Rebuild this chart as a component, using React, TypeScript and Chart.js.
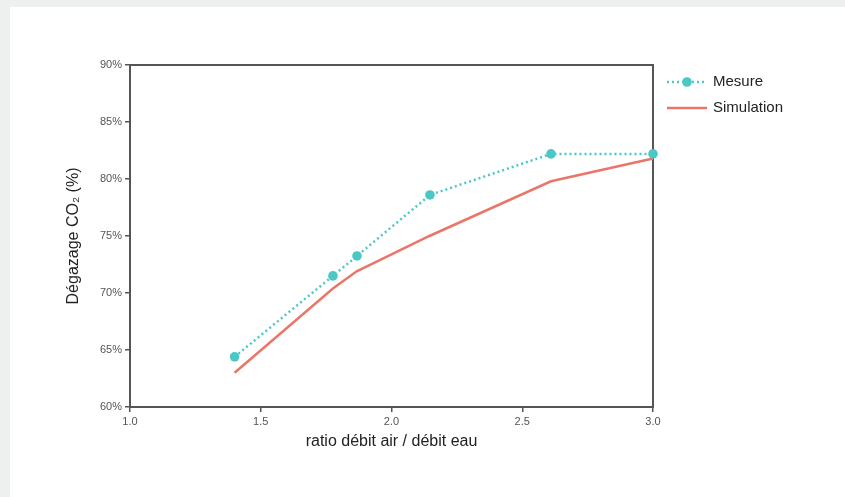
import React, { useEffect, useRef } from "react";
import { Chart, registerables } from "chart.js";

Chart.register(...registerables);

const ratioMesure = [1.4, 1.776, 1.868, 2.147, 2.61, 3.0];
const degazageMesure = [64.4, 71.5, 73.25, 78.6, 82.2, 82.2];
const ratioSimulation = [1.4, 1.776, 1.867, 2.145, 2.61, 3.0];
const degazageSimulation = [63.0, 70.4, 71.9, 75.0, 79.8, 81.8];
const seriesNames = ["Mesure", "Simulation"];
const yTitle = "Dégazage CO₂ (%)";
const xTitle = "ratio débit air / débit eau";

const TEAL = "#4bc8c5";
const SALMON = "#ea7669";
const FRAME = "#555555";
const FONT = "'Liberation Sans', Arial, Helvetica, sans-serif";

const framePlugin = {
  id: "frame",
  beforeDatasetsDraw(chart: any) {
    const { ctx, chartArea } = chart;
    ctx.save();
    ctx.strokeStyle = FRAME;
    ctx.lineWidth = 2;
    ctx.strokeRect(chartArea.left, chartArea.top, chartArea.right - chartArea.left, chartArea.bottom - chartArea.top);
    ctx.restore();
  },
};

const legendPlugin = {
  id: "customLegend",
  afterDraw(chart: any) {
    const { ctx, chartArea } = chart;
    const x0 = chartArea.right + 14;
    const lineLen = 40;
    const rows = [chartArea.top + 17, chartArea.top + 43];
    ctx.save();
    chart.data.datasets.forEach((ds: any, i: number) => {
      const y = rows[i];
      ctx.strokeStyle = ds.borderColor;
      ctx.lineWidth = ds.borderWidth;
      ctx.setLineDash(ds.borderDash || []);
      ctx.beginPath();
      ctx.moveTo(x0, y);
      ctx.lineTo(x0 + lineLen, y);
      ctx.stroke();
      ctx.setLineDash([]);
      if (ds.pointRadius > 0) {
        ctx.fillStyle = ds.pointBackgroundColor;
        ctx.beginPath();
        ctx.arc(x0 + lineLen / 2, y, ds.pointRadius, 0, Math.PI * 2);
        ctx.fill();
      }
      ctx.fillStyle = "#222222";
      ctx.font = `15px ${FONT}`;
      ctx.textAlign = "left";
      ctx.textBaseline = "middle";
      ctx.fillText(ds.label, x0 + lineLen + 6, y);
    });
    ctx.restore();
  },
};

export default function App() {
  const ref = useRef<HTMLCanvasElement | null>(null);

  useEffect(() => {
    document.body.style.margin = "0";
    document.body.style.background = "#eef0ef";
    if (!ref.current) return;
    const chart = new Chart(ref.current, {
      type: "line",
      data: {
        datasets: [
          {
            label: seriesNames[0],
            data: ratioMesure.map((x, i) => ({ x, y: degazageMesure[i] })),
            borderColor: TEAL,
            backgroundColor: TEAL,
            pointBackgroundColor: TEAL,
            pointBorderColor: TEAL,
            pointBorderWidth: 0,
            borderWidth: 2.5,
            borderDash: [2, 3],
            pointRadius: 4.8,
            pointHoverRadius: 4.8,
            tension: 0,
            clip: false as any,
          },
          {
            label: seriesNames[1],
            data: ratioSimulation.map((x, i) => ({ x, y: degazageSimulation[i] })),
            borderColor: SALMON,
            backgroundColor: SALMON,
            pointBackgroundColor: SALMON,
            borderWidth: 2.5,
            pointRadius: 0,
            tension: 0,
            clip: false as any,
          },
        ],
      },
      options: {
        animation: false,
        responsive: false,
        maintainAspectRatio: false,
        layout: { padding: { left: 54, top: 58, right: 192, bottom: 46 } },
        plugins: {
          legend: { display: false },
          tooltip: { enabled: false },
        },
        scales: {
          x: {
            type: "linear",
            min: 1,
            max: 3,
            ticks: {
              stepSize: 0.5,
              color: "#555555",
              font: { family: FONT, size: 11 },
              padding: 3,
              maxRotation: 0,
              autoSkip: false,
              callback: (v: any) => Number(v).toFixed(1),
            },
            grid: { drawOnChartArea: false, tickLength: 5, color: FRAME, lineWidth: 1.5 },
            border: { color: FRAME, width: 2 },
            title: {
              display: true,
              text: xTitle,
              color: "#222222",
              font: { family: FONT, size: 16 },
              padding: { top: 4, bottom: 0 },
            },
            afterFit: (s: any) => {
              s.height = 44;
            },
          },
          y: {
            type: "linear",
            min: 60,
            max: 90,
            ticks: {
              stepSize: 5,
              color: "#555555",
              font: { family: FONT, size: 11 },
              padding: 3,
              callback: (v: any) => `${v}%`,
            },
            grid: { drawOnChartArea: false, tickLength: 5, color: FRAME, lineWidth: 1.5 },
            border: { color: FRAME, width: 2 },
            title: {
              display: true,
              text: yTitle,
              color: "#222222",
              font: { family: FONT, size: 16 },
              padding: { top: 0, bottom: 0 },
            },
            afterFit: (s: any) => {
              s.width = 66;
            },
          },
        },
      },
      plugins: [framePlugin, legendPlugin],
    });
    return () => chart.destroy();
  }, []);

  return (
    <div style={{ position: "absolute", left: 10, top: 7, width: 835, height: 490, background: "#ffffff" }}>
      <canvas ref={ref} width={835} height={490} style={{ display: "block" }} />
    </div>
  );
}
